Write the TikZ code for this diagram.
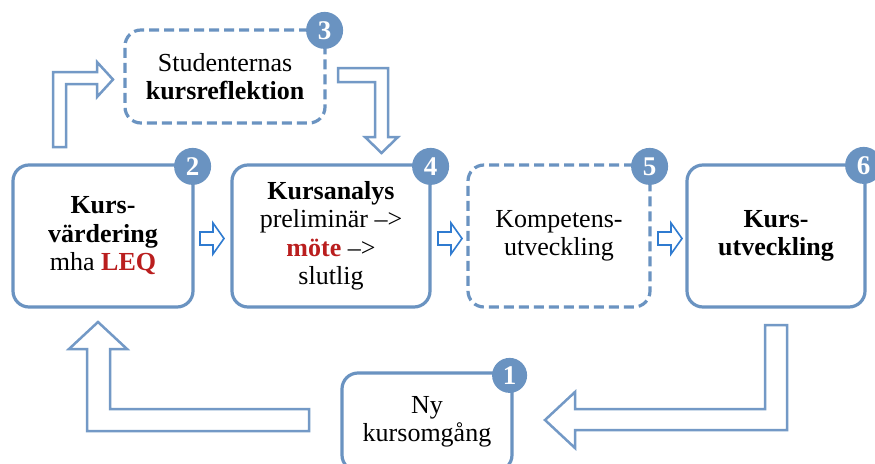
\documentclass[tikz,border=0pt]{standalone}
\usepackage{fontspec}
\setmainfont{Liberation Serif}
\definecolor{boxblue}{HTML}{6A93C1}
\definecolor{arrowblue}{HTML}{7399C6}
\definecolor{smallblue}{HTML}{2F7BD0}
\definecolor{leqred}{HTML}{BA1E1E}
\begin{document}
\begin{tikzpicture}[x=1pt,y=-1pt,
  stagebox/.style={draw=boxblue, line width=3.2pt, rounded corners=16pt, align=center,
    inner sep=0pt, font=\fontsize{26}{28.5}\selectfont},
  dashbox/.style={stagebox, dash pattern=on 10pt off 5pt},
  badge/.style={circle, fill=boxblue, minimum size=37pt, inner sep=0pt, text=white,
    font=\fontsize{27}{27}\selectfont\bfseries},
  bigarrow/.style={draw=arrowblue, line width=2.5pt, fill=white, line join=miter},
  smallarrow/.style={draw=smallblue, line width=1.6pt, fill=white, line join=miter}]
\clip (0,0) rectangle (875,463);
\fill[white] (0,0) rectangle (875,463);

% block arrows
\draw[bigarrow] (53,147) -- (53,72) -- (97,72) -- (97,62) -- (113,79.5) -- (97,97) -- (97,84) -- (66,84) -- (66,147) -- cycle;
\draw[bigarrow] (338,68) -- (388,68) -- (388,137) -- (398,137) -- (381.5,153) -- (365,137) -- (375,137) -- (375,82) -- (338,82) -- cycle;
\draw[bigarrow] (98,322) -- (127,349) -- (110,349) -- (110,409) -- (309,409) -- (309,431) -- (87,431) -- (87,349) -- (69,349) -- cycle;
\draw[bigarrow] (787,325) -- (787,430) -- (575,430) -- (575,448) -- (545,420) -- (575,392) -- (575,409) -- (765,409) -- (765,325) -- cycle;

% small arrows
\foreach \x in {200,438,658}{
  \draw[smallarrow] (\x,232) -- (\x+13,232) -- (\x+13,223) -- (\x+24,238.5) -- (\x+13,254) -- (\x+13,245) -- (\x,245) -- cycle;
}

% boxes
\node[dashbox, minimum width=200pt, minimum height=93pt] (b3) at (225,76.5)
  {Studenternas\\\textbf{kursreflektion}};
\node[stagebox, minimum width=180pt, minimum height=142pt] (b2) at (103,236)
  {\textbf{Kurs-}\\\textbf{värdering}\\mha \textcolor{leqred}{\textbf{LEQ}}};
\node[stagebox, minimum width=198pt, minimum height=142pt] (b4) at (331,236)
  {\textbf{Kursanalys}\\preliminär –>\\\textcolor{leqred}{\textbf{möte}} –>\\slutlig};
\node[dashbox, minimum width=182pt, minimum height=142pt] (b5) at (559,236)
  {Kompetens-\\utveckling};
\node[stagebox, minimum width=178pt, minimum height=142pt] (b6) at (776,236)
  {\textbf{Kurs-}\\\textbf{utveckling}};
\node[stagebox, minimum width=170pt, minimum height=98pt] (b1) at (427,422)
  {Ny\\kursomgång};

% badges
\node[badge] (n3) at ([xshift=-2pt,yshift=-2pt]b3.north east) {3};
\node[badge] (n2) at ([xshift=-2pt,yshift=-3pt]b2.north east) {2};
\node[badge] (n4) at ([xshift=-1pt,yshift=-3pt]b4.north east) {4};
\node[badge] (n5) at ([xshift=-2pt,yshift=-3pt]b5.north east) {5};
\node[badge] (n6) at ([xshift=-3pt,yshift=-2pt]b6.north east) {6};
\node[badge, minimum size=35pt] (n1) at ([xshift=-4pt,yshift=-4pt]b1.north east) {1};
\end{tikzpicture}
\end{document}
